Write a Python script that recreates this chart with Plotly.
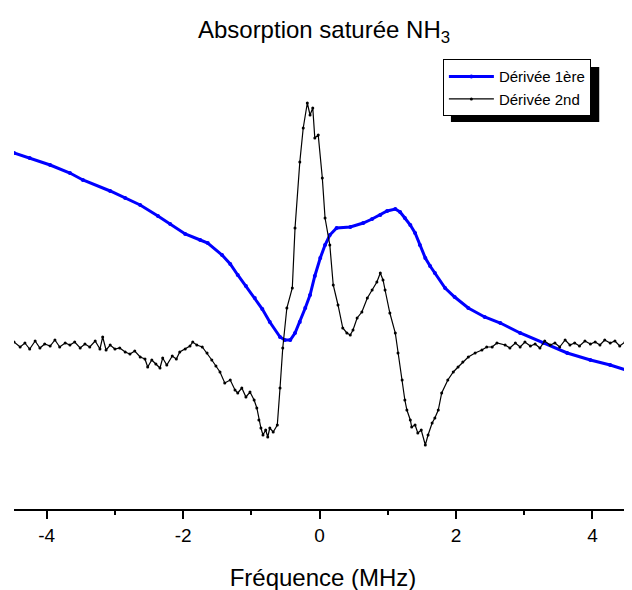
import plotly.graph_objects as go

# Dérivée 1ère (blue) - frequency in MHz, signal in arbitrary units
freq_1 = [-4.48, -4.25, -3.95, -3.66, -3.47, -3.07, -2.85, -2.63, -2.37, -2.19,
          -1.97, -1.75, -1.64, -1.43, -1.31, -1.20, -1.08, -0.95, -0.84, -0.73,
          -0.58, -0.51, -0.43, -0.36, -0.29, -0.21, -0.14, -0.07, 0.01, 0.08,
          0.15, 0.25, 0.45, 0.64, 0.77, 0.89, 0.99, 1.11, 1.18, 1.25,
          1.33, 1.40, 1.47, 1.55, 1.62, 1.69, 1.84, 1.98, 2.18, 2.42,
          2.65, 2.94, 3.28, 3.63, 3.97, 4.26, 4.58]
sig_1 = [1.92, 1.87, 1.80, 1.72, 1.65, 1.54, 1.47, 1.40, 1.29, 1.21,
         1.11, 1.05, 1.02, 0.90, 0.81, 0.70, 0.59, 0.47, 0.36, 0.23,
         0.08, 0.05, 0.05, 0.12, 0.23, 0.37, 0.50, 0.69, 0.87, 1.00,
         1.10, 1.17, 1.18, 1.22, 1.26, 1.30, 1.34, 1.36, 1.33, 1.27,
         1.20, 1.12, 1.00, 0.87, 0.79, 0.72, 0.57, 0.48, 0.37, 0.28,
         0.22, 0.12, 0.02, -0.08, -0.15, -0.20, -0.27]

# Dérivée 2nd (black)
freq_2 = [-4.48, -4.39, -4.32, -4.25, -4.17, -4.10, -4.03, -3.95, -3.88, -3.81,
          -3.73, -3.66, -3.59, -3.51, -3.44, -3.37, -3.29, -3.22, -3.18, -3.13,
          -3.07, -3.00, -2.93, -2.85, -2.78, -2.71, -2.63, -2.56, -2.52, -2.46,
          -2.40, -2.34, -2.30, -2.24, -2.16, -2.10, -2.05, -1.97, -1.90, -1.86,
          -1.80, -1.72, -1.65, -1.58, -1.52, -1.46, -1.39, -1.31, -1.24, -1.20,
          -1.14, -1.08, -1.02, -0.96, -0.92, -0.89, -0.86, -0.83, -0.79, -0.76,
          -0.73, -0.68, -0.62, -0.58, -0.54, -0.48, -0.40, -0.36, -0.29, -0.24,
          -0.18, -0.14, -0.10, -0.07, -0.02, 0.04, 0.08, 0.15, 0.20, 0.27,
          0.34, 0.40, 0.45, 0.49, 0.55, 0.62, 0.70, 0.77, 0.84, 0.89,
          0.93, 0.96, 1.03, 1.11, 1.15, 1.21, 1.25, 1.28, 1.33, 1.35,
          1.40, 1.44, 1.49, 1.55, 1.59, 1.65, 1.69, 1.74, 1.79, 1.88,
          1.96, 2.03, 2.10, 2.18, 2.28, 2.38, 2.45, 2.53, 2.60, 2.72,
          2.79, 2.87, 2.94, 3.01, 3.09, 3.16, 3.23, 3.30, 3.38, 3.45,
          3.52, 3.60, 3.67, 3.74, 3.81, 3.89, 3.97, 4.04, 4.11, 4.18,
          4.26, 4.33, 4.40, 4.48, 4.55, 4.58]
sig_2 = [0.03, -0.02, 0.02, -0.04, 0.04, -0.03, 0.01, -0.01, 0.05, -0.02,
         0.02, 0.00, 0.03, -0.03, 0.01, -0.02, 0.04, -0.04, 0.08, -0.05,
         0.00, -0.04, -0.03, -0.07, -0.09, -0.06, -0.12, -0.14, -0.22, -0.15,
         -0.19, -0.23, -0.13, -0.20, -0.11, -0.14, -0.07, -0.04, -0.01, 0.03,
         0.00, -0.02, -0.08, -0.15, -0.21, -0.27, -0.38, -0.35, -0.45, -0.48,
         -0.43, -0.52, -0.47, -0.55, -0.63, -0.75, -0.83, -0.90, -0.85, -0.92,
         -0.83, -0.87, -0.80, -0.43, -0.03, 0.37, 0.57, 1.17, 1.83, 2.17,
         2.42, 2.30, 2.37, 2.07, 2.10, 1.67, 1.27, 1.00, 0.60, 0.40,
         0.17, 0.12, 0.10, 0.15, 0.27, 0.33, 0.47, 0.55, 0.63, 0.72,
         0.65, 0.55, 0.32, 0.12, -0.08, -0.35, -0.55, -0.65, -0.75, -0.82,
         -0.80, -0.88, -0.85, -1.00, -0.90, -0.78, -0.73, -0.65, -0.48, -0.35,
         -0.27, -0.22, -0.17, -0.12, -0.08, -0.05, -0.02, -0.02, 0.02, 0.00,
         -0.03, 0.02, -0.02, 0.03, -0.01, 0.01, -0.03, 0.04, 0.00, 0.02,
         -0.02, 0.05, 0.00, 0.02, -0.01, 0.04, 0.01, 0.03, 0.00, 0.05,
         0.02, 0.04, -0.01, 0.03, 0.02, -0.05]

x_ticks = [-4, -2, 0, 2, 4]
x_tick_labels = ["-4", "-2", "0", "2", "4"]

FONT = "Arial, Liberation Sans, sans-serif"

fig = go.Figure()
fig.add_trace(go.Scatter(
    x=freq_1, y=sig_1, mode="lines+markers", name="Dérivée 1ère",
    line=dict(color="#0000ff", width=3),
    marker=dict(color="#0000ff", size=4),
))
fig.add_trace(go.Scatter(
    x=freq_2, y=sig_2, mode="lines+markers", name="Dérivée 2nd",
    line=dict(color="#000000", width=1.2),
    marker=dict(color="#000000", size=3),
))

# legend drop shadow
fig.add_shape(type="rect", xref="paper", yref="paper",
              x0=0.707, x1=0.947, y0=0.843, y1=0.963,
              fillcolor="black", line=dict(width=0), layer="above")

# the page has an 8px body margin, so the figure is shifted by 8px
fig.update_layout(
    width=632, height=590,
    margin=dict(l=6, r=8, t=42, b=89),
    paper_bgcolor="white", plot_bgcolor="white",
    font=dict(family=FONT, color="black"),
    title=dict(text="Absorption saturée NH<sub>3</sub>", x=0.5, xanchor="center",
               y=0.963, yanchor="middle", font=dict(size=24)),
    showlegend=True,
    legend=dict(x=0.694, y=0.98, xanchor="left", yanchor="top",
                bgcolor="white", bordercolor="black", borderwidth=1,
                font=dict(size=15), tracegroupgap=0, itemwidth=45),
)
fig.update_xaxes(
    range=[-4.48, 4.58], tickvals=x_ticks, ticktext=x_tick_labels,
    showgrid=False, zeroline=False, showline=True, linecolor="black", linewidth=2,
    ticks="outside", ticklen=8, tickwidth=1.5, tickcolor="black",
    minor=dict(tickvals=[-3, -1, 1, 3], ticks="outside", ticklen=4, tickwidth=1.5, tickcolor="black"),
    tickfont=dict(size=19),
    title=dict(text="Fréquence (MHz)", font=dict(size=24), standoff=24),
)
fig.update_yaxes(range=[-1.64, 2.95], visible=False)

fig.write_html("out.html")
